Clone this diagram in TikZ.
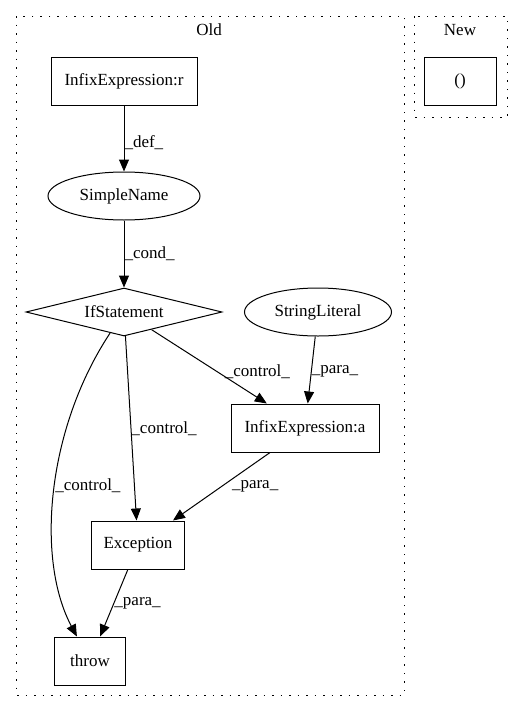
\documentclass[tikz,border=0pt]{standalone}
\usepackage{fontspec}
\setmainfont{Liberation Serif}
\usetikzlibrary{shapes.geometric,arrows.meta}

\begin{document}
\begin{tikzpicture}[x=1pt,y=-1pt,
  every node/.style={font=\fontsize{17}{20}\selectfont},
  box/.style={draw,line width=1pt,inner sep=0pt,minimum height=48pt},
  oval/.style={draw,ellipse,line width=1pt,inner sep=0pt,minimum height=48pt},
  decision/.style={draw,diamond,aspect=4,line width=1pt,inner sep=0pt,minimum width=196pt,minimum height=48pt},
  flow/.style={line width=1pt,-{Stealth[length=12pt,width=10pt,inset=0pt]}},
  lbl/.style={anchor=west,inner sep=0pt},
  cluster/.style={line width=1pt,dash pattern=on 1.5pt off 7pt}]

 \useasboundingbox (0,0) rectangle (527,712);

 % clusters
 \draw[cluster] (16,16) rectangle (404,695);
 \draw[cluster] (414,16) rectangle (507,117);
 \node (old) at (209,30) {Old};
 \node (new) at (460,30) {New};

 \node[box,minimum width=146pt] (infr) at (124,81) {InfixExpression:r};
 \node[oval,minimum width=152pt] (simple) at (124,196) {SimpleName};
 \node[decision] (if) at (124,312) {IfStatement};
 \node[oval,minimum width=147pt] (str) at (318,312) {StringLiteral};
 \node[box,minimum width=148pt] (infa) at (305,428) {InfixExpression:a};
 \node[box,minimum width=93pt] (exc) at (138,545) {Exception};
 \node[box,minimum width=71pt] (throw) at (90,661) {throw};
 \node[box,minimum width=72pt] (paren) at (460,81) {()};

 \draw[flow] (infr) -- (simple) node[lbl,pos=0.56] {\_def\_};
 \draw[flow] (simple) -- (if) node[lbl,pos=0.5] {\_cond\_};
 \draw[flow] (if) -- (infa) node[lbl,pos=0.57,xshift=7pt] {\_control\_};
 \draw[flow] (str) -- (infa) node[lbl,pos=0.52] {\_para\_};
 \draw[flow] (if) -- (exc) node[lbl,pos=0.5] {\_control\_};
 \draw[flow] (if) .. controls (46,430) and (36,560) .. (throw) node[lbl,pos=0.48] {\_control\_};
 \draw[flow] (infa) -- (exc) node[lbl,pos=0.5,xshift=10pt] {\_para\_};
 \draw[flow] (exc) -- (throw) node[lbl,pos=0.5] {\_para\_};

\end{tikzpicture}
\end{document}
